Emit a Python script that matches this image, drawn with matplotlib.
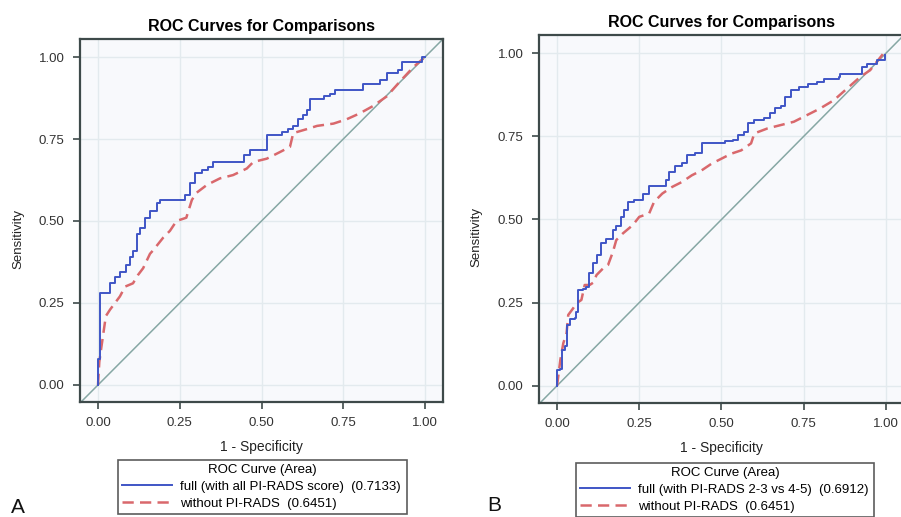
import matplotlib
matplotlib.use("Agg")
import matplotlib.pyplot as plt

plt.rcParams['font.family'] = ['Liberation Sans', 'DejaVu Sans']

# panel A: full model (with all PI-RADS score) vs without PI-RADS
a_full_x = [0.0, 0.0, 0.006, 0.006, 0.037, 0.052, 0.067, 0.086, 0.098, 0.107, 0.119, 0.128,
            0.144, 0.159, 0.18, 0.19, 0.25, 0.266, 0.28, 0.297, 0.317, 0.337, 0.352, 0.434,
            0.445, 0.465, 0.5, 0.516, 0.55, 0.562, 0.58, 0.597, 0.612, 0.628, 0.638, 0.648,
            0.673, 0.69, 0.71, 0.725, 0.806, 0.81, 0.857, 0.862, 0.883, 0.918, 0.929, 0.975,
            0.99, 1.0]
a_full_y = [0.0, 0.08, 0.08, 0.28, 0.31, 0.33, 0.345, 0.366, 0.39, 0.41, 0.46, 0.48,
            0.51, 0.53, 0.555, 0.564, 0.564, 0.58, 0.615, 0.645, 0.655, 0.665, 0.68, 0.68,
            0.70, 0.716, 0.716, 0.762, 0.762, 0.77, 0.78, 0.79, 0.81, 0.823, 0.838, 0.872,
            0.872, 0.88, 0.887, 0.90, 0.90, 0.918, 0.918, 0.93, 0.95, 0.96, 0.985, 0.985,
            1.0, 1.0]
a_red_x = [0.0, 0.004, 0.011, 0.024, 0.037, 0.052, 0.067, 0.083, 0.107, 0.122, 0.138, 0.159,
           0.168, 0.2, 0.22, 0.24, 0.27, 0.287, 0.30, 0.333, 0.373, 0.413, 0.455, 0.475,
           0.516, 0.556, 0.587, 0.597, 0.638, 0.67, 0.72, 0.76, 0.80, 0.84, 0.883, 0.923,
           0.965, 1.0]
a_red_y = [0.0, 0.07, 0.12, 0.21, 0.23, 0.25, 0.27, 0.30, 0.31, 0.335, 0.356, 0.40,
           0.41, 0.45, 0.47, 0.50, 0.51, 0.564, 0.585, 0.61, 0.63, 0.64, 0.66, 0.68,
           0.69, 0.71, 0.726, 0.768, 0.78, 0.79, 0.797, 0.81, 0.828, 0.85, 0.88, 0.925,
           0.97, 1.0]

# panel B: full model (with PI-RADS 2-3 vs 4-5) vs without PI-RADS
b_full_x = [0.0, 0.0, 0.008, 0.014, 0.024, 0.029, 0.039, 0.054, 0.059, 0.064, 0.079, 0.089,
            0.097, 0.109, 0.12, 0.134, 0.149, 0.17, 0.18, 0.195, 0.205, 0.215, 0.235, 0.26,
            0.28, 0.305, 0.33, 0.34, 0.36, 0.38, 0.396, 0.42, 0.44, 0.50, 0.51, 0.535,
            0.551, 0.57, 0.581, 0.60, 0.63, 0.647, 0.662, 0.682, 0.692, 0.712, 0.737, 0.762,
            0.792, 0.812, 0.857, 0.86, 0.922, 0.928, 0.943, 0.963, 0.973, 0.998]
b_full_y = [0.0, 0.048, 0.05, 0.108, 0.118, 0.183, 0.20, 0.204, 0.223, 0.288, 0.29, 0.298,
            0.34, 0.368, 0.393, 0.43, 0.44, 0.468, 0.48, 0.508, 0.528, 0.553, 0.56, 0.578,
            0.60, 0.60, 0.618, 0.644, 0.66, 0.67, 0.694, 0.70, 0.729, 0.729, 0.735, 0.74,
            0.754, 0.764, 0.79, 0.80, 0.805, 0.819, 0.834, 0.84, 0.869, 0.889, 0.899, 0.909,
            0.914, 0.924, 0.929, 0.937, 0.937, 0.959, 0.967, 0.967, 0.98, 0.994]
b_red_x = [0.0, 0.01, 0.019, 0.029, 0.034, 0.049, 0.059, 0.074, 0.084, 0.099, 0.11, 0.12,
           0.14, 0.155, 0.17, 0.18, 0.2, 0.23, 0.25, 0.28, 0.295, 0.32, 0.35, 0.38,
           0.41, 0.44, 0.47, 0.50, 0.53, 0.56, 0.59, 0.60, 0.64, 0.68, 0.72, 0.76,
           0.80, 0.842, 0.882, 0.922, 0.952, 0.992]
b_red_y = [0.0, 0.078, 0.128, 0.159, 0.213, 0.233, 0.248, 0.258, 0.303, 0.303, 0.31, 0.333,
           0.353, 0.363, 0.403, 0.438, 0.458, 0.483, 0.508, 0.518, 0.553, 0.578, 0.598, 0.613,
           0.633, 0.648, 0.668, 0.683, 0.698, 0.708, 0.729, 0.759, 0.774, 0.784, 0.794, 0.814,
           0.834, 0.859, 0.894, 0.929, 0.949, 0.999]

ticks = [0.0, 0.25, 0.5, 0.75, 1.0]
tick_labels = ["0.00", "0.25", "0.50", "0.75", "1.00"]

panels = [
    dict(pos=[0.0888, 0.2224, 0.4029, 0.7022], fx=a_full_x, fy=a_full_y, rx=a_red_x, ry=a_red_y,
         full_label="full (with all PI-RADS score)  (0.7133)",
         red_label="without PI-RADS  (0.6451)",
         leg=(0.131, 0.0, 0.321, 0.110), letter="A", letter_xy=(0.012, 0.008), ylab_x=0.02),
    dict(pos=[0.5982, 0.2205, 0.4051, 0.7118], fx=b_full_x, fy=b_full_y, rx=b_red_x, ry=b_red_y,
         full_label="full (with PI-RADS 2-3 vs 4-5)  (0.6912)",
         red_label="without PI-RADS  (0.6451)",
         leg=(0.639, 0.0, 0.331, 0.1044), letter="B", letter_xy=(0.541, 0.012), ylab_x=0.529),
]

blue = "#3F55C6"
red = "#D9686C"
diag = "#86A7A4"
frame = "#3E4A4A"

fig = plt.figure(figsize=(9.01, 5.17), dpi=100)

for p in panels:
    ax = fig.add_axes(p["pos"])
    ax.set_facecolor("#F8F9FC")
    ax.plot([-0.1, 1.1], [-0.1, 1.1], color=diag, lw=1.1, zorder=1)
    l1, = ax.plot(p["fx"], p["fy"], color=blue, lw=1.4, drawstyle="steps-post", zorder=3,
                  label=p["full_label"])
    l2, = ax.plot(p["rx"], p["ry"], color=red, lw=1.8, ls=(0, (4.5, 2.5)), zorder=2,
                  label=p["red_label"])
    ax.set_xlim(-0.055, 1.055)
    ax.set_ylim(-0.052, 1.055)
    ax.set_xticks(ticks)
    ax.set_xticklabels(tick_labels)
    ax.set_yticks(ticks)
    ax.set_yticklabels(tick_labels)
    ax.grid(True, color="#E3EAEE", lw=1.0)
    ax.set_axisbelow(True)
    ax.tick_params(axis="both", direction="out", length=5, width=1.2, color=frame,
                   labelsize=9.5, labelcolor="#333333", pad=6)
    for side in ["top", "right", "left", "bottom"]:
        ax.spines[side].set_color(frame)
        ax.spines[side].set_linewidth(1.6)
    ax.set_title("ROC Curves for Comparisons", fontsize=11.5, fontweight="bold", pad=6)
    ax.set_xlabel("1 - Specificity", fontsize=10, color="#222222", labelpad=8)
    fig.text(p["ylab_x"], p["pos"][1] + p["pos"][3] * 0.45, "Sensitivity", rotation=90,
             fontsize=9.5, color="#222222", ha="center", va="center")
    leg = fig.legend(handles=[l1, l2], title="ROC Curve (Area)", loc="upper left",
                     bbox_to_anchor=p["leg"], mode="expand", fontsize=9.5, title_fontsize=9.5,
                     frameon=True, fancybox=False, handlelength=3.8, borderpad=0.3,
                     labelspacing=0.35, handletextpad=0.6, borderaxespad=0)
    leg.get_frame().set_edgecolor("#333333")
    leg.get_frame().set_linewidth(1.2)
    fig.text(p["letter_xy"][0], p["letter_xy"][1], p["letter"], fontsize=15, color="#111111")

fig.savefig("out.png", dpi=100)
